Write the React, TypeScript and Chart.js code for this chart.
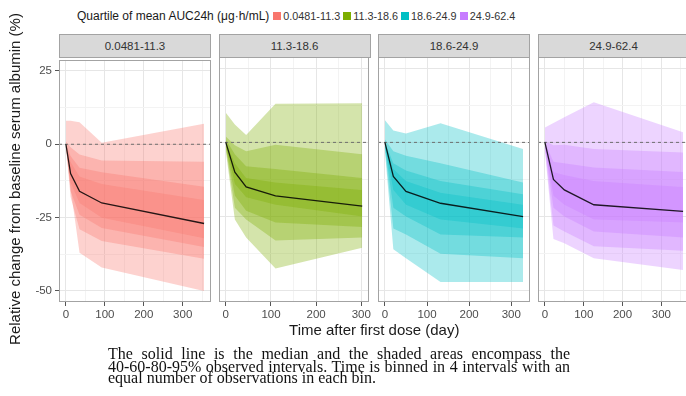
import React, { useEffect, useRef } from 'react';
import { Chart, registerables } from 'chart.js';

Chart.register(...registerables);

// ---------------- data ----------------
const QUARTILES = ['0.0481-11.3', '11.3-18.6', '18.6-24.9', '24.9-62.4'];
const COLORS = ['#F8766D', '#7CAE00', '#00BFC4', '#C77CFF'];
const LEGEND_TITLE = 'Quartile of mean AUC24h (μg·h/mL)';
const X_TITLE = 'Time after first dose (day)';
const Y_TITLE = 'Relative change from baseline serum albumin (%)';
const CAPTION = [
  'The solid line is the median and the shaded areas encompass the',
  '40-60-80-95% observed intervals. Time is binned in 4 intervals with an',
  'equal number of observations in each bin.',
];

// time (day) of each bin, one row per quartile panel
const TIME = [
  [0, 12, 35, 92, 355],
  [0, 20, 45, 110, 302],
  [0, 20, 50, 132, 328],
  [0, 22, 50, 126, 356],
];
const MEDIAN = [
  [0, -10, -16, -20, -27],
  [0, -10, -15, -18, -21.5],
  [0, -11.5, -16.5, -20.5, -25],
  [0, -12.5, -16, -21, -23.2],
];
const P975 = [
  [8, 8, 7.5, 0.5, 7],
  [10, 6, 2.5, 13, 13.2],
  [7.5, 4, 3, 6.4, -2.2],
  [5, 6.5, 8.5, 13.5, 3.4],
];
const P90 = [
  [1, -1, -3.5, -5.5, -6],
  [2, -1, -3, -0.8, -4],
  [1, -3, -4.5, -7, -13.5],
  [0.5, -1, -0.8, -2.2, -3.4],
];
const P80 = [
  [0, -4, -8, -9.5, -14.5],
  [1, -4, -8, -9, -12],
  [0, -7, -9.5, -13, -17.5],
  [0, -6.5, -7, -8.5, -10],
];
const P70 = [
  [0, -6, -11, -13.5, -19],
  [0, -7, -12, -13.5, -16],
  [0, -9, -13, -17, -21],
  [0, -10, -11, -13, -15],
];
const P30 = [
  [0, -13, -20, -25, -32],
  [-1, -14, -18.5, -21, -25],
  [-1, -16, -21, -26, -29],
  [-1, -18, -21, -26, -27],
];
const P20 = [
  [0, -16, -24, -28.5, -35],
  [-1.5, -18, -23, -27, -28.5],
  [-1.5, -22, -25, -31, -32],
  [-1.5, -22, -25, -30, -32],
];
const P10 = [
  [-0.5, -18, -29, -33, -39],
  [-2, -22, -26, -33, -32],
  [-2, -29, -31, -37.5, -39],
  [-2, -28, -30, -35, -36.5],
];
const P025 = [
  [-1, -15, -37, -42, -50],
  [-3, -26, -32, -42.5, -35.5],
  [-3, -36, -39, -47, -47],
  [-3, -32.5, -34, -39, -43],
];

const X_MAJOR = [0, 100, 200, 300];
const X_MINOR = [50, 150, 250, 350];
const Y_MAJOR = [-50, -25, 0, 25];
const Y_MINOR = [-37.5, -12.5, 12.5];
const Y_MIN = -53.75;
const Y_MAX = 28.75;

// ---------------- styling / layout ----------------
const BANDS = [
  [P025, P975],
  [P10, P90],
  [P20, P80],
  [P30, P70],
];
const BAND_ALPHA = 0.33;
const PANEL_W = 152;
const PANEL_STEP = 159.5;
const PANEL_LEFT0 = 59;
const PLOT_TOP = 57;
const PLOT_H = 245;
const CANVAS_TOP = 50;
const PAD_TOP = PLOT_TOP - CANVAS_TOP;
const XAXIS_H = 26;
const YAXIS_W = 41;
const GRID_MAJOR = '#e6e6e6';
const GRID_MINOR = '#f3f3f3';
const BORDER = '#a3a3a3';
const SANS = '"Liberation Sans", Arial, sans-serif';
const SERIF = '"Liberation Serif", "Times New Roman", serif';

Chart.defaults.font.family = SANS;

function rgba(hex: string, a: number) {
  const n = parseInt(hex.slice(1), 16);
  return `rgba(${(n >> 16) & 255},${(n >> 8) & 255},${n & 255},${a})`;
}

const borderPlugin = {
  id: 'panelBorder',
  afterDatasetsDraw(chart: any) {
    const { ctx, chartArea: a } = chart;
    ctx.save();
    ctx.strokeStyle = BORDER;
    ctx.lineWidth = 1;
    const l = Math.round(a.left) + 0.5;
    const t = Math.round(a.top) + 0.5;
    const r = Math.round(a.right) - 0.5;
    const b = Math.round(a.bottom) - 0.5;
    ctx.strokeRect(l, t, r - l, b - t);
    ctx.restore();
  },
};

function Panel({ idx }: { idx: number }) {
  const ref = useRef<HTMLCanvasElement>(null);
  const first = idx === 0;
  const panelLeft = PANEL_LEFT0 + idx * PANEL_STEP;
  const canvasLeft = first ? panelLeft - YAXIS_W : panelLeft - 2;
  const canvasW = first ? YAXIS_W + PANEL_W + 2 : PANEL_W + 4;
  const canvasH = PAD_TOP + PLOT_H + XAXIS_H;

  useEffect(() => {
    const t = TIME[idx];
    const pts = (arr: number[][]) => t.map((x, i) => ({ x, y: arr[idx][i] }));
    const last = t[t.length - 1];
    const xmin = -0.05 * last;
    const xmax = 1.05 * last;
    const datasets: any[] = [
      {
        data: pts(MEDIAN),
        borderColor: 'rgba(0,0,0,0.85)',
        borderWidth: 1.3,
        pointRadius: 0,
        fill: false,
        order: 0,
      },
      {
        data: [
          { x: xmin, y: 0 },
          { x: xmax, y: 0 },
        ],
        borderColor: '#6e6e6e',
        borderWidth: 1,
        borderDash: [3, 3],
        pointRadius: 0,
        fill: false,
        order: 1,
      },
    ];
    BANDS.forEach(([lo, hi]) => {
      datasets.push({
        data: pts(lo),
        borderColor: 'rgba(0,0,0,0)',
        borderWidth: 0,
        pointRadius: 0,
        fill: false,
        order: 2,
      });
      datasets.push({
        data: pts(hi),
        borderColor: 'rgba(0,0,0,0)',
        borderWidth: 0,
        pointRadius: 0,
        fill: '-1',
        backgroundColor: rgba(COLORS[idx], BAND_ALPHA),
        order: 2,
      });
    });

    const chart = new Chart(ref.current as HTMLCanvasElement, {
      type: 'line',
      data: { datasets },
      plugins: [borderPlugin],
      options: {
        animation: false,
        responsive: false,
        devicePixelRatio: 1,
        layout: { padding: { top: PAD_TOP, left: first ? 0 : 2, right: 2, bottom: 0 } },
        plugins: { legend: { display: false }, tooltip: { enabled: false } },
        elements: { line: { tension: 0 } },
        scales: {
          x: {
            type: 'linear',
            min: xmin,
            max: xmax,
            afterBuildTicks: (s: any) => {
              s.ticks = [...X_MAJOR, ...X_MINOR]
                .filter((v) => v >= xmin && v <= xmax)
                .sort((a, b) => a - b)
                .map((v) => ({ value: v }));
            },
            afterFit: (s: any) => {
              s.height = XAXIS_H;
            },
            border: { display: false },
            grid: {
              color: (c: any) => (X_MAJOR.includes(c.tick?.value) ? GRID_MAJOR : GRID_MINOR),
              tickColor: (c: any) => (X_MAJOR.includes(c.tick?.value) ? '#555' : 'rgba(0,0,0,0)'),
              tickLength: 4,
              drawTicks: true,
            },
            ticks: {
              autoSkip: false,
              maxRotation: 0,
              padding: 2,
              color: '#4d4d4d',
              font: { size: 11.5 },
              callback: (v: any) => (X_MAJOR.includes(v) ? String(v) : ''),
            },
          },
          y: {
            type: 'linear',
            min: Y_MIN,
            max: Y_MAX,
            afterBuildTicks: (s: any) => {
              s.ticks = [...Y_MAJOR, ...Y_MINOR].sort((a, b) => a - b).map((v) => ({ value: v }));
            },
            afterFit: (s: any) => {
              s.width = first ? YAXIS_W : 0;
            },
            border: { display: false },
            grid: {
              color: (c: any) => (Y_MAJOR.includes(c.tick?.value) ? GRID_MAJOR : GRID_MINOR),
              tickColor: (c: any) => (Y_MAJOR.includes(c.tick?.value) ? '#555' : 'rgba(0,0,0,0)'),
              tickLength: 4,
              drawTicks: first,
            },
            ticks: {
              display: first,
              autoSkip: false,
              padding: 3,
              color: '#4d4d4d',
              font: { size: 11.5 },
              callback: (v: any) => (Y_MAJOR.includes(v) ? String(v) : ''),
            },
          },
        },
      } as any,
    });
    return () => chart.destroy();
  }, [idx]);

  return (
    <>
      <div
        style={{
          position: 'absolute',
          left: panelLeft,
          top: 34,
          width: PANEL_W,
          height: 24,
          boxSizing: 'border-box',
          background: '#d9d9d9',
          border: `1px solid ${BORDER}`,
          font: `11.5px ${SANS}`,
          color: '#333',
          lineHeight: '22px',
          textAlign: 'center',
        }}
      >
        {QUARTILES[idx]}
      </div>
      <canvas
        ref={ref}
        width={canvasW}
        height={canvasH}
        style={{ position: 'absolute', left: canvasLeft, top: CANVAS_TOP, width: canvasW, height: canvasH }}
      />
    </>
  );
}

export default function App() {
  const panelCenter = (PANEL_LEFT0 + PANEL_LEFT0 + 3 * PANEL_STEP + PANEL_W) / 2;
  return (
    <div
      style={{
        position: 'absolute',
        left: 0,
        top: 0,
        width: 686,
        height: 396,
        overflow: 'hidden',
        background: '#fff',
        fontFamily: SANS,
      }}
    >
      {/* legend */}
      <div
        style={{
          position: 'absolute',
          left: 77,
          top: 7,
          height: 18,
          display: 'flex',
          alignItems: 'center',
          whiteSpace: 'nowrap',
        }}
      >
        <span style={{ fontSize: 12, color: '#1a1a1a', marginRight: 4 }}>{LEGEND_TITLE}</span>
        {QUARTILES.map((q, i) => (
          <span key={q} style={{ display: 'flex', alignItems: 'center', marginRight: 3 }}>
            <span style={{ display: 'inline-block', width: 8, height: 8, background: COLORS[i], marginRight: 2 }} />
            <span style={{ fontSize: 10.8, color: '#333' }}>{q}</span>
          </span>
        ))}
      </div>

      {QUARTILES.map((q, i) => (
        <Panel key={q} idx={i} />
      ))}

      {/* y title */}
      <div
        style={{
          position: 'absolute',
          left: 15 - 200,
          top: 179 - 9,
          width: 400,
          height: 18,
          lineHeight: '18px',
          textAlign: 'center',
          fontSize: 15,
          color: '#1a1a1a',
          transform: 'rotate(-90deg)',
          whiteSpace: 'nowrap',
        }}
      >
        {Y_TITLE}
      </div>

      {/* x title */}
      <div
        style={{
          position: 'absolute',
          left: panelCenter - 200,
          top: 321,
          width: 400,
          height: 18,
          lineHeight: '18px',
          textAlign: 'center',
          fontSize: 15,
          color: '#1a1a1a',
          whiteSpace: 'nowrap',
        }}
      >
        {X_TITLE}
      </div>

      {/* caption */}
      {CAPTION.map((line, i) => (
        <div
          key={i}
          style={{
            position: 'absolute',
            left: 108,
            top: [345, 358, 369][i],
            width: 462,
            fontFamily: SERIF,
            fontSize: 16,
            lineHeight: '17px',
            color: '#111',
            whiteSpace: 'nowrap',
            textAlign: 'justify',
            textAlignLast: i < 2 ? 'justify' : 'left',
          } as any}
        >
          {line}
        </div>
      ))}
    </div>
  );
}
